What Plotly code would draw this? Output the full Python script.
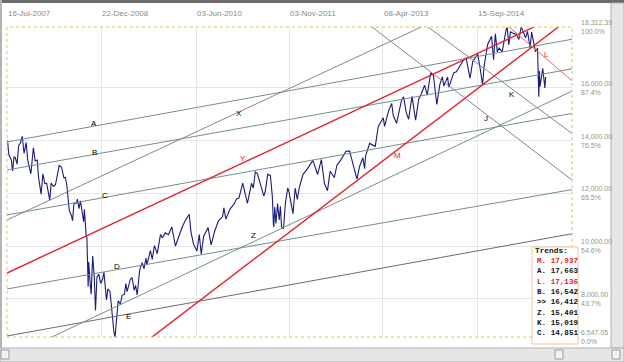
import plotly.graph_objects as go

# ---------------- data ----------------
djia_dates = [
    "2007-07-16", "2007-07-19", "2007-07-26", "2007-08-01", "2007-08-09", "2007-08-16", "2007-08-24",
    "2007-08-31", "2007-09-10", "2007-09-19", "2007-09-28", "2007-10-09", "2007-10-19", "2007-10-31",
    "2007-11-08", "2007-11-26", "2007-12-10", "2007-12-20", "2007-12-31",
    "2008-01-08", "2008-01-22", "2008-02-01", "2008-02-12", "2008-02-22", "2008-03-10", "2008-03-18",
    "2008-03-31", "2008-04-11", "2008-04-23", "2008-05-02", "2008-05-15", "2008-05-28", "2008-06-05",
    "2008-06-13", "2008-06-27", "2008-07-09", "2008-07-15", "2008-07-23", "2008-08-05", "2008-08-11",
    "2008-08-20", "2008-08-28", "2008-09-15", "2008-09-19", "2008-09-29", "2008-10-03", "2008-10-10",
    "2008-10-13", "2008-10-22", "2008-10-27", "2008-11-04", "2008-11-13", "2008-11-20", "2008-11-28",
    "2008-12-08", "2008-12-19", "2008-12-31",
    "2009-01-06", "2009-01-20", "2009-01-28", "2009-02-09", "2009-02-23", "2009-03-02", "2009-03-09",
    "2009-03-17", "2009-03-26", "2009-04-07", "2009-04-17", "2009-04-30", "2009-05-08", "2009-05-15",
    "2009-06-02", "2009-06-12", "2009-06-23", "2009-07-01", "2009-07-10", "2009-07-24", "2009-08-07",
    "2009-08-17", "2009-08-28", "2009-09-02", "2009-09-22", "2009-10-02", "2009-10-14", "2009-10-30",
    "2009-11-17", "2009-11-27", "2009-12-14", "2009-12-31",
    "2010-01-19", "2010-02-08", "2010-02-25", "2010-03-19", "2010-04-05", "2010-04-26", "2010-05-06",
    "2010-05-20", "2010-06-08", "2010-06-21", "2010-07-02", "2010-07-15", "2010-08-09", "2010-08-26",
    "2010-09-15", "2010-10-05", "2010-10-29", "2010-11-05", "2010-11-16", "2010-12-10", "2010-12-31",
    "2011-01-14", "2011-01-28", "2011-02-18", "2011-03-16", "2011-04-08", "2011-04-18", "2011-04-29",
    "2011-05-10", "2011-05-25", "2011-06-15", "2011-06-23", "2011-07-07", "2011-07-22", "2011-08-02",
    "2011-08-08", "2011-08-10", "2011-08-15", "2011-08-22", "2011-08-31", "2011-09-09", "2011-09-16",
    "2011-09-22", "2011-10-03", "2011-10-14", "2011-10-27", "2011-11-03", "2011-11-25", "2011-12-07",
    "2011-12-19", "2011-12-30",
    "2012-01-20", "2012-02-09", "2012-03-15", "2012-04-10", "2012-05-01", "2012-05-18", "2012-06-04",
    "2012-06-19", "2012-07-12", "2012-07-27", "2012-08-16", "2012-09-14", "2012-10-05", "2012-10-23",
    "2012-11-15", "2012-11-30", "2012-12-18", "2012-12-28",
    "2013-01-02", "2013-01-25", "2013-02-25", "2013-03-14", "2013-04-11", "2013-04-18", "2013-05-10",
    "2013-05-28", "2013-06-05", "2013-06-24", "2013-07-22", "2013-08-02", "2013-08-16", "2013-08-30",
    "2013-09-18", "2013-10-08", "2013-10-25", "2013-11-08", "2013-11-27", "2013-12-12", "2013-12-31",
    "2014-01-15", "2014-02-03", "2014-02-20", "2014-03-06", "2014-03-14", "2014-04-04", "2014-04-11",
    "2014-05-09", "2014-05-23", "2014-06-20", "2014-07-03", "2014-07-16", "2014-08-07", "2014-08-22",
    "2014-09-19", "2014-10-01", "2014-10-16", "2014-10-24", "2014-11-13", "2014-12-05", "2014-12-16",
    "2014-12-26",
    "2015-01-06", "2015-01-16", "2015-02-02", "2015-02-24", "2015-03-02", "2015-03-11", "2015-03-20",
    "2015-04-10", "2015-04-22", "2015-05-06", "2015-05-19", "2015-06-03", "2015-06-12", "2015-06-23",
    "2015-07-08", "2015-07-16", "2015-07-28", "2015-08-07", "2015-08-18", "2015-08-21", "2015-08-25",
    "2015-08-28", "2015-09-01", "2015-09-16", "2015-09-28", "2015-10-02",
]
djia_close = [
    13950, 14000, 13470, 13360, 13270, 12850, 13380,
    13360, 13110, 13815, 13900, 14164, 13520, 13930,
    13270, 12740, 13730, 13230, 13265,
    12590, 11970, 12740, 12370, 12380, 11740, 12390,
    12260, 12330, 12760, 13060, 12990, 12590, 12600,
    12310, 11350, 11150, 10960, 11630, 11615, 11780,
    11420, 11715, 10920, 11390, 10365, 10325, 8450,
    9390, 8520, 8175, 9625, 8830, 7550, 8830,
    8930, 8580, 8775,
    9015, 7950, 8375, 8270, 7115, 6765, 6547.05,
    7395, 7925, 7790, 8130, 8170, 8575, 8270,
    8740, 8800, 8320, 8505, 8145, 9090, 9370,
    9135, 9545, 9280, 9830, 9490, 10015, 9710,
    10440, 10310, 10500, 10430,
    10725, 10000, 10320, 10740, 10975, 11205, 10520,
    10070, 9815, 10440, 9686, 10360, 10700, 10045,
    10570, 10945, 11120, 11445, 11020, 11410, 11578,
    11790, 11820, 12390, 11615, 12380, 12200, 12810,
    12760, 12395, 11900, 12050, 12720, 12680, 11870,
    10810, 10720, 11480, 10855, 11615, 10990, 11510,
    10730, 10655, 11645, 12210, 12045, 11230, 12195,
    11770, 12220,
    12720, 12890, 13250, 12715, 13280, 12370, 12100,
    12840, 12600, 13075, 13250, 13590, 13610, 13100,
    12540, 13025, 13350, 12940,
    13410, 13895, 13785, 14540, 14865, 14540, 15120,
    15410, 14960, 14660, 15545, 15660, 15080, 14810,
    15680, 14775, 15570, 15760, 16100, 15740, 16577,
    16480, 15370, 16130, 16420, 16070, 16410, 16030,
    16580, 16610, 16950, 17070, 17140, 16370, 17000,
    17280, 16800, 16120, 16800, 17650, 17960, 17070,
    18050,
    17370, 17510, 17365, 18210, 18290, 17635, 18130,
    18060, 18040, 17840, 18312.39, 18075, 17900, 18145,
    17515, 18120, 17630, 17370, 17510, 16460, 15666,
    16645, 16060, 16740, 16000, 16412,
]

x_start = "2007-07-16"
x_end = "2016-02-26"
y_min = 6547.05
y_max = 18312.39

top_tick_dates = ["2007-07-16", "2008-12-22", "2010-06-03", "2011-11-03", "2013-04-08", "2014-09-15"]
top_tick_labels = ["16-Jul-2007", "22-Dec-2008", "03-Jun-2010", "03-Nov-2011", "08-Apr-2013", "15-Sep-2014"]

right_tick_values = [18312.39, 16000, 14000, 12000, 10000, 8000, 6547.05]
right_tick_texts = ["18,312.39", "16,000.00", "14,000.00", "12,000.00", "10,000.00", "8,000.00", "6,547.05"]
right_tick_pcts = ["100.0%", "87.4%", "76.5%", "65.5%", "54.6%", "43.7%", "0.0%"]
grid_values = [16000, 14000, 12000, 10000, 8000]

# trend lines: value at left edge (x_start) and right edge (x_end)
trend_names = ["A", "B", "C", "D", "E", "X", "Y", "Z", "M", "J", "K", "L"]
trend_start_vals = [13948, 12885, 11177, 8369, 6585, 10988, 8976, 5742, 2346, 28908, 30121, 34580]
trend_end_vals = [17847, 16723, 15033, 12143, 10466, 20977, 18988, 15878, 18707, 12506, 14273, 16274]
trend_label_dates = ["2008-11-12", "2008-11-12", "2009-01-12", "2009-03-20", "2009-05-25", "2011-01-28",
                     "2011-02-19", "2011-04-21", "2013-07-01", "2014-11-04", "2015-03-28", "2015-10-09"]
trend_label_vals = [14669, 13568, 11936, 9204, 7307, 15048, 13303, 10381, 13417, 14821, 15769, 17287]

legend_names = ["M", "A", "L", "B", ">>", "Z", "K", "C"]
legend_values = [17937, 17663, 17136, 16542, 16412, 15401, 15019, 14851]

# ---------------- styles ----------------
GREEN = "#71908b"
PURPLE = "#8e7f8e"
RED = "#e4202c"
trend_colors = {"A": GREEN, "B": GREEN, "C": GREEN, "D": GREEN, "Z": GREEN,
                "E": "#756470", "X": PURPLE, "J": PURPLE, "K": PURPLE,
                "Y": RED, "M": RED, "L": "#e66a6a"}
trend_widths = {"Y": 1.4, "M": 1.4}
red_labels = {"Y", "M", "L"}

W, H = 624, 362
L_PX, R_PX, T_PX, B_PX = 7, 572, 27, 337


def px(xp):
    return (xp - L_PX) / (R_PX - L_PX)


def py(yp):
    return (B_PX - yp) / (B_PX - T_PX)


fig = go.Figure()

fig.add_trace(go.Scatter(x=djia_dates, y=djia_close, mode="lines",
                         line=dict(color="#1b1b7a", width=1.1), hoverinfo="skip", showlegend=False))

for i, name in enumerate(trend_names):
    fig.add_trace(go.Scatter(x=[x_start, x_end], y=[trend_start_vals[i], trend_end_vals[i]],
                             mode="lines", line=dict(color=trend_colors[name], width=trend_widths.get(name, 1)),
                             hoverinfo="skip", showlegend=False))

annotations = []
for i, name in enumerate(trend_names):
    annotations.append(dict(x=trend_label_dates[i], y=trend_label_vals[i], xref="x", yref="y",
                            text=name, showarrow=False,
                            font=dict(family="Liberation Sans, Arial", size=8,
                                      color="#e4202c" if name in red_labels else "#000000")))

for d, t in zip(top_tick_dates, top_tick_labels):
    annotations.append(dict(x=d, y=py(14), xref="x", yref="paper", text=t, showarrow=False,
                            xanchor="left", yanchor="middle", xshift=-1,
                            font=dict(family="Liberation Sans Narrow, Arial Narrow, Liberation Sans", size=8,
                                      color="#8a8a80")))

for v, t, p in zip(right_tick_values, right_tick_texts, right_tick_pcts):
    annotations.append(dict(x=1, y=v, xref="paper", yref="y", text=t + "<br>" + p, showarrow=False,
                            xanchor="left", yanchor="middle", align="left", xshift=7,
                            font=dict(family="Liberation Sans Narrow, Arial Narrow, Liberation Sans", size=7,
                                      color="#959580")))

# legend text
annotations.append(dict(x=px(533), y=py(251), xref="paper", yref="paper", text="<b>Trends:</b>", showarrow=False,
                        xanchor="left", yanchor="middle",
                        font=dict(family="Liberation Mono, Courier New, monospace", size=7.8, color="#111111")))
for i, (n, v) in enumerate(zip(legend_names, legend_values)):
    sep = " " if n == ">>" else ". "
    annotations.append(dict(x=px(535), y=py(261 + i * 10.3), xref="paper", yref="paper",
                            text="<b>" + n + sep + f"{v:,}" + "</b>", showarrow=False,
                            xanchor="left", yanchor="middle",
                            font=dict(family="Liberation Mono, Courier New, monospace", size=7.6,
                                      color="#e4202c" if n in ("M", "L") else "#111111")))

shapes = []
# plot border (dotted)
shapes.append(dict(type="rect", xref="paper", yref="paper", x0=0, x1=1, y0=0, y1=1,
                   line=dict(color="#e2c25a", width=1, dash="dot")))
# legend box
shapes.append(dict(type="rect", xref="paper", yref="paper", x0=px(532), x1=px(578), y0=py(344), y1=py(247),
                   line=dict(color="#f0c49a", width=1), fillcolor="white"))
# window frame
frame = [
    ((0, 0, 624, 3), "#6a6a6a", None),
    ((0, 0, 2, 362), "#b4b4b4", None),
    ((611, 3, 624, 348), "#e6e6e6", "#b0b0b0"),
    ((0, 348, 624, 362), "#e6e6e6", "#b0b0b0"),
    ((1, 350, 9, 359), "#f2f2f2", "#9a9a9a"),
    ((555, 350, 563, 359), "#f2f2f2", "#9a9a9a"),
    ((612, 350, 620, 359), "#f2f2f2", "#9a9a9a"),
]
for (x0, y0, x1, y1), fill, lc in frame:
    shapes.append(dict(type="rect", xref="paper", yref="paper", x0=px(x0), x1=px(x1), y0=py(y1), y1=py(y0),
                       fillcolor=fill, line=dict(color=lc if lc else fill, width=1 if lc else 0)))

fig.update_layout(
    width=W, height=H,
    margin=dict(l=L_PX, r=W - R_PX, t=T_PX, b=H - B_PX, pad=0),
    paper_bgcolor="white", plot_bgcolor="white",
    showlegend=False,
    xaxis=dict(type="date", range=[x_start, x_end], tickvals=top_tick_dates[1:], showticklabels=False,
               showgrid=True, gridcolor="#e6e6e6", gridwidth=1, zeroline=False, showline=False, ticks=""),
    yaxis=dict(range=[y_min, y_max], tickvals=grid_values, showticklabels=False,
               showgrid=True, gridcolor="#e6e6e6", gridwidth=1, zeroline=False, showline=False, ticks=""),
    annotations=annotations,
    shapes=shapes,
)

fig.write_html("out.html", config={"displayModeBar": False},
               post_script="document.body.style.margin='0px';")
